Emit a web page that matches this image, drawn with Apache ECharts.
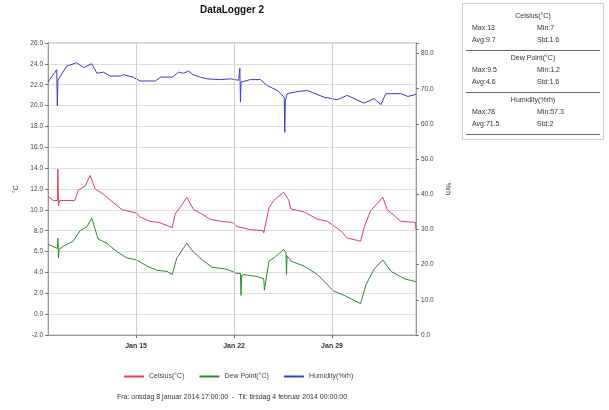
<!DOCTYPE html>
<html>
<head>
<meta charset="utf-8">
<script src="https://cdn.jsdelivr.net/npm/echarts@6/dist/echarts.min.js"></script>
<style>
html,body{margin:0;padding:0;background:#fff;}
#chart{width:609px;height:410px;}
</style>
</head>
<body>
<div id="chart"></div>
<script>
var chartTitle = 'DataLogger 2';
var seriesNames = ['Celsius(°C)', 'Dew Point(°C)', 'Humidity(%rh)'];
var xStart = '2014-01-08 17:00';
var xEnd = '2014-02-04 00:00';
var xTickDates = ['2014-01-15 00:00', '2014-01-22 00:00', '2014-01-29 00:00'];
var xTickLabels = ['Jan 15', 'Jan 22', 'Jan 29'];
var footerText = 'Fra: onsdag 8 januar 2014 17:00:00  -  Til: tirsdag 4 februar 2014 00:00:00';

var celsius = [
  ['2014-01-08 17:00',11.3],['2014-01-09 02:00',10.9],['2014-01-09 09:00',10.9],['2014-01-09 10:00',13.9],
  ['2014-01-09 11:00',10.4],['2014-01-09 13:00',10.9],['2014-01-10 15:00',10.9],['2014-01-10 21:00',11.9],
  ['2014-01-11 09:00',12.3],['2014-01-11 17:00',13.3],['2014-01-12 02:00',12.0],['2014-01-12 16:00',11.5],
  ['2014-01-13 09:00',10.7],['2014-01-14 00:00',10.0],['2014-01-15 01:00',9.7],['2014-01-15 07:00',9.3],
  ['2014-01-16 00:00',8.9],['2014-01-16 15:00',8.8],['2014-01-17 05:00',8.5],['2014-01-17 14:00',8.3],
  ['2014-01-17 19:00',9.6],['2014-01-18 07:00',10.5],['2014-01-18 15:00',11.2],['2014-01-19 03:00',10.0],
  ['2014-01-19 17:00',9.6],['2014-01-20 07:00',9.1],['2014-01-21 01:00',8.9],['2014-01-21 21:00',8.8],
  ['2014-01-22 05:00',8.4],['2014-01-23 04:00',8.1],['2014-01-24 02:00',8.0],['2014-01-24 03:00',7.8],
  ['2014-01-24 12:00',10.2],['2014-01-24 20:00',10.9],['2014-01-25 13:00',11.7],['2014-01-25 22:00',10.9],
  ['2014-01-26 01:00',10.1],['2014-01-27 00:00',9.8],['2014-01-27 23:00',9.1],['2014-01-28 16:00',8.9],
  ['2014-01-29 15:00',8.0],['2014-01-30 02:00',7.3],['2014-01-31 01:00',7.0],['2014-01-31 07:00',8.3],
  ['2014-01-31 18:00',9.9],['2014-02-01 15:00',11.2],['2014-02-01 23:00',10.0],['2014-02-02 22:00',8.9],
  ['2014-02-03 23:00',8.8],['2014-02-04 00:00',8.1]
];

var dewPoint = [
  ['2014-01-08 17:00',6.7],['2014-01-09 09:00',6.3],['2014-01-09 10:00',7.3],['2014-01-09 11:00',5.4],
  ['2014-01-09 12:00',6.2],['2014-01-09 19:00',6.5],['2014-01-10 12:00',7.0],['2014-01-11 00:00',8.0],
  ['2014-01-11 12:00',8.4],['2014-01-11 20:00',9.2],['2014-01-12 07:00',7.2],['2014-01-12 22:00',6.8],
  ['2014-01-13 15:00',6.0],['2014-01-14 08:00',5.4],['2014-01-15 01:00',5.2],['2014-01-15 19:00',4.6],
  ['2014-01-16 12:00',4.2],['2014-01-17 05:00',4.1],['2014-01-17 14:00',3.8],['2014-01-17 22:00',5.4],
  ['2014-01-18 15:00',6.8],['2014-01-19 03:00',5.9],['2014-01-19 20:00',5.1],['2014-01-20 10:00',4.5],
  ['2014-01-21 12:00',4.3],['2014-01-22 05:00',3.9],['2014-01-22 11:00',3.9],['2014-01-22 12:00',1.8],
  ['2014-01-22 13:00',3.7],['2014-01-22 17:00',3.8],['2014-01-23 16:00',3.6],['2014-01-24 03:00',3.4],
  ['2014-01-24 04:00',2.3],['2014-01-24 12:00',5.1],['2014-01-24 23:00',5.5],['2014-01-25 13:00',6.2],
  ['2014-01-25 17:00',5.9],['2014-01-25 18:00',3.8],['2014-01-25 19:00',5.6],['2014-01-26 01:00',5.1],
  ['2014-01-27 00:00',4.6],['2014-01-27 23:00',3.8],['2014-01-29 03:00',2.2],['2014-01-29 21:00',1.8],
  ['2014-01-31 01:00',1.0],['2014-01-31 10:00',2.8],['2014-02-01 00:00',4.3],['2014-02-01 15:00',5.2],
  ['2014-02-02 05:00',4.1],['2014-02-03 04:00',3.4],['2014-02-04 00:00',3.1]
];

var humidity = [
  ['2014-01-08 17:00',71.9],['2014-01-09 08:00',75.4],['2014-01-09 09:00',65.2],['2014-01-09 10:00',72.4],
  ['2014-01-10 01:00',76.4],['2014-01-10 18:00',77.4],['2014-01-11 06:00',76.0],['2014-01-11 20:00',77.1],
  ['2014-01-12 05:00',74.4],['2014-01-12 16:00',74.7],['2014-01-13 04:00',73.6],['2014-01-13 21:00',73.6],
  ['2014-01-14 02:00',74.0],['2014-01-14 19:00',73.3],['2014-01-15 07:00',72.2],['2014-01-16 09:00',72.2],
  ['2014-01-16 18:00',73.3],['2014-01-17 14:00',73.3],['2014-01-18 01:00',74.7],['2014-01-18 09:00',74.4],
  ['2014-01-18 18:00',75.0],['2014-01-19 02:00',74.0],['2014-01-19 14:00',73.3],['2014-01-20 02:00',72.8],
  ['2014-01-21 01:00',72.6],['2014-01-21 18:00',72.8],['2014-01-22 08:00',72.4],['2014-01-22 10:00',75.8],
  ['2014-01-22 11:00',66.2],['2014-01-22 12:00',71.9],['2014-01-23 04:00',72.6],['2014-01-23 21:00',72.6],
  ['2014-01-24 09:00',70.9],['2014-01-25 02:00',69.5],['2014-01-25 14:00',67.6],['2014-01-25 15:00',57.6],
  ['2014-01-25 16:00',66.5],['2014-01-25 19:00',68.6],['2014-01-26 13:00',69.2],['2014-01-27 06:00',69.5],
  ['2014-01-28 10:00',67.6],['2014-01-29 09:00',66.9],['2014-01-30 02:00',68.1],['2014-01-31 07:00',65.9],
  ['2014-02-01 00:00',67.2],['2014-02-01 12:00',65.5],['2014-02-01 20:00',68.6],['2014-02-02 22:00',68.6],
  ['2014-02-03 10:00',67.8],['2014-02-04 00:00',68.4]
];

var statsTitles = ['Celsius(°C)', 'Dew Point(°C)', 'Humidity(%rh)'];
var statsLeft = [['Max:13', 'Avg:9.7'], ['Max:9.5', 'Avg:4.6'], ['Max:78', 'Avg:71.5']];
var statsRight = [['Min:7', 'Std:1.6'], ['Min:1.2', 'Std:1.6'], ['Min:57.3', 'Std:2']];

var colors = ['#e0405a', '#2e8b2e', '#3c3cc8'];
var FONT = 'Liberation Sans, Arial, sans-serif';

function ts(s) {
  var p = s.split(/[- :]/);
  return new Date(+p[0], +p[1] - 1, +p[2], +p[3], +p[4]).getTime();
}
var tickValues = xTickDates.map(ts);

var graphics = [];
graphics.push({type: 'text', x: 232, y: 10, style: {text: chartTitle, font: 'bold 10px ' + FONT, fill: '#111', textAlign: 'center', textVerticalAlign: 'middle'}});
graphics.push({type: 'text', x: 232, y: 397, style: {text: footerText, font: '7px ' + FONT, fill: '#333', textAlign: 'center', textVerticalAlign: 'middle'}});
graphics.push({type: 'rect', shape: {x: 462.5, y: 3.5, width: 141, height: 136}, style: {fill: '#fff', stroke: '#cfcfcf', lineWidth: 1}});
for (var i = 0; i < statsTitles.length; i++) {
  var y0 = 16 + i * 42;
  graphics.push({type: 'text', x: 533, y: y0, style: {text: statsTitles[i], font: '7px ' + FONT, fill: '#333', textAlign: 'center', textVerticalAlign: 'middle'}});
  for (var r = 0; r < 2; r++) {
    graphics.push({type: 'text', x: 472, y: y0 + 12 + r * 12, style: {text: statsLeft[i][r], font: '7px ' + FONT, fill: '#333', textAlign: 'left', textVerticalAlign: 'middle'}});
    graphics.push({type: 'text', x: 537, y: y0 + 12 + r * 12, style: {text: statsRight[i][r], font: '7px ' + FONT, fill: '#333', textAlign: 'left', textVerticalAlign: 'middle'}});
  }
  graphics.push({type: 'line', shape: {x1: 466, y1: y0 + 34.5, x2: 600, y2: y0 + 34.5}, style: {stroke: '#666', lineWidth: 1}});
}

var chart = echarts.init(document.getElementById('chart'), null, {renderer: 'canvas'});
var option = {
  animation: false,
  backgroundColor: '#fff',
  textStyle: {fontFamily: FONT},
  grid: {left: 48, right: 193, top: 43, bottom: 75, show: true, borderColor: '#b5b5b5', borderWidth: 1, backgroundColor: '#fff'},
  legend: {
    data: seriesNames, left: 118, top: 368, itemWidth: 20, itemHeight: 8, itemGap: 14,
    itemStyle: {opacity: 0},
    textStyle: {fontSize: 7, color: '#444', fontFamily: FONT}
  },
  xAxis: {
    type: 'value', min: ts(xStart), max: ts(xEnd),
    axisLine: {onZero: false, lineStyle: {color: '#999'}},
    axisTick: {show: true, customValues: tickValues, length: 3, lineStyle: {color: '#777'}},
    axisLabel: {
      customValues: tickValues, fontSize: 7, fontWeight: 'bold', color: '#333', margin: 8,
      formatter: function (v) {
        for (var k = 0; k < tickValues.length; k++) { if (Math.abs(tickValues[k] - v) < 1000) return xTickLabels[k]; }
        return '';
      }
    },
    splitLine: {show: false}
  },
  yAxis: [
    {
      type: 'value', min: -2, max: 26, interval: 2, name: '°C', nameLocation: 'middle', nameGap: 22, nameRotate: 90,
      nameTextStyle: {fontSize: 7, color: '#444'},
      axisLine: {show: true, lineStyle: {color: '#999'}},
      axisTick: {show: true, length: 3, lineStyle: {color: '#777'}},
      axisLabel: {fontSize: 6.5, color: '#444', margin: 5, formatter: function (v) { return v.toFixed(1); }},
      splitLine: {show: true, lineStyle: {color: '#dedede', width: 1}}
    },
    {
      type: 'value', min: 0, max: 83, interval: 10, position: 'right', name: '%rh', nameLocation: 'middle', nameGap: 28, nameRotate: -90,
      nameTextStyle: {fontSize: 7, color: '#444'},
      axisLine: {show: true, lineStyle: {color: '#999'}},
      axisTick: {show: true, length: 3, lineStyle: {color: '#777'}},
      axisLabel: {fontSize: 6.5, color: '#444', margin: 5, formatter: function (v) { return (Math.round(v) % 10 === 0) ? v.toFixed(1) : ''; }},
      splitLine: {show: false}
    }
  ],
  series: [
    {
      name: seriesNames[0], type: 'line', yAxisIndex: 0, data: celsius.map(function (d) { return [ts(d[0]), d[1]]; }),
      symbol: 'none', lineStyle: {width: 1, color: colors[0]}, itemStyle: {color: colors[0]},
      markLine: {
        silent: true, symbol: ['none', 'none'], label: {show: false},
        lineStyle: {color: '#cfcfcf', type: 'solid', width: 1},
        data: tickValues.map(function (v) { return {xAxis: v}; })
      },
      z: 3
    },
    {
      name: seriesNames[1], type: 'line', yAxisIndex: 0, data: dewPoint.map(function (d) { return [ts(d[0]), d[1]]; }),
      symbol: 'none', lineStyle: {width: 1, color: colors[1]}, itemStyle: {color: colors[1]}, z: 3
    },
    {
      name: seriesNames[2], type: 'line', yAxisIndex: 1, data: humidity.map(function (d) { return [ts(d[0]), d[1]]; }),
      symbol: 'none', lineStyle: {width: 1, color: colors[2]}, itemStyle: {color: colors[2]}, z: 3
    }
  ],
  graphic: graphics
};
chart.setOption(option);
</script>
</body>
</html>
